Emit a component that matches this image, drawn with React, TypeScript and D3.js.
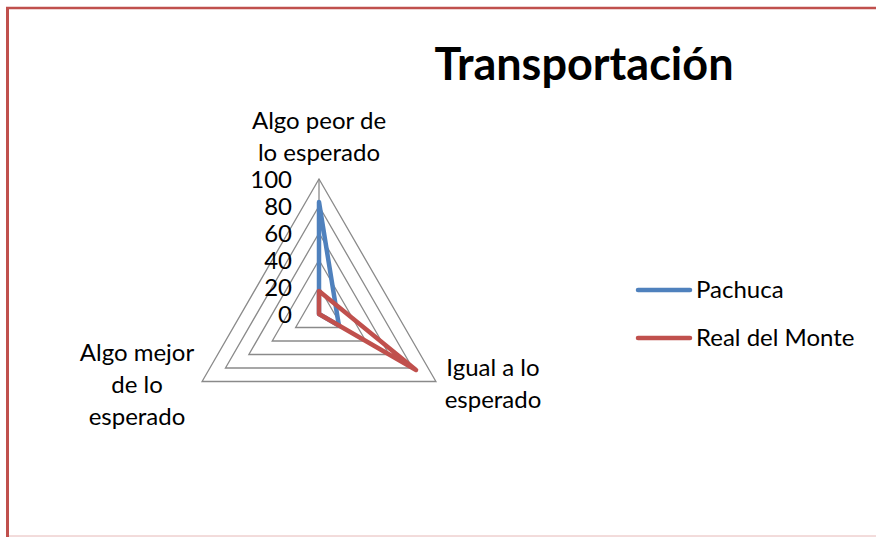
import React, { useEffect, useRef } from "react";
import * as d3 from "d3";

const categories = [
  ["Algo peor de", "lo esperado"],
  ["Igual a lo", "esperado"],
  ["Algo mejor", "de lo", "esperado"],
];
const seriesNames = ["Pachuca", "Real del Monte"];
const pachuca = [83, 17, 0];
const realDelMonte = [17, 83, 0];
const ticks = [0, 20, 40, 60, 80, 100];
const colors = ["#4F81BD", "#C0504D"];

const App = () => {
  const ref = useRef<SVGSVGElement>(null);

  useEffect(() => {
    const width = 876;
    const height = 537;
    const cx = 319;
    const cy = 314;
    const font = "Lato, 'Open Sans', sans-serif";

    const svg = d3.select(ref.current);
    svg.selectAll("*").remove();
    svg.attr("width", width).attr("height", height);

    svg.append("rect").attr("width", width).attr("height", height).attr("fill", "#fff");

    // frame
    svg.append("line").attr("x1", 6).attr("x2", width).attr("y1", 8).attr("y2", 8)
      .attr("stroke", "#C0504D").attr("stroke-width", 2.5);
    svg.append("line").attr("x1", 7.5).attr("x2", 7.5).attr("y1", 7).attr("y2", height)
      .attr("stroke", "#C0504D").attr("stroke-width", 3);
    svg.append("line").attr("x1", 9).attr("x2", width).attr("y1", 536).attr("y2", 536)
      .attr("stroke", "#E6B8B7").attr("stroke-width", 1);

    svg.append("text")
      .attr("x", 584).attr("y", 80)
      .attr("text-anchor", "middle")
      .style("font-family", font).style("font-weight", "bold").style("font-size", "45px")
      .text("Transportación");

    const r = d3.scaleLinear().domain([0, 100]).range([0, 135]);
    const n = categories.length;
    const angle = (i: number) => (i * 2 * Math.PI) / n;

    const g = svg.append("g").attr("transform", `translate(${cx},${cy})`);

    const radial = d3.lineRadial<number>()
      .angle((_, i) => angle(i))
      .radius((d) => r(d))
      .curve(d3.curveLinearClosed);

    // grid triangles
    ticks.filter((t) => t > 0).forEach((t) => {
      g.append("path")
        .attr("d", radial(d3.range(n).map(() => t)))
        .attr("fill", "none").attr("stroke", "#8a8a8a").attr("stroke-width", 1.3);
    });
    // value axis
    g.append("line").attr("x1", 0).attr("y1", 0).attr("x2", 0).attr("y2", -r(100))
      .attr("stroke", "#8a8a8a").attr("stroke-width", 1.3);

    // tick labels
    g.selectAll(".tick")
      .data(ticks)
      .enter()
      .append("text")
      .attr("x", -27)
      .attr("y", (d) => -r(d))
      .attr("dy", "0.36em")
      .attr("text-anchor", "end")
      .style("font-family", font).style("font-size", "24px")
      .text((d) => d);

    // series
    [pachuca, realDelMonte].forEach((vals, k) => {
      g.append("path")
        .attr("d", radial(vals))
        .attr("fill", "none")
        .attr("stroke", colors[k])
        .attr("stroke-width", 4.5)
        .attr("stroke-linejoin", "round");
    });

    // category labels (first-line baselines, relative to centre)
    const labelPos = [
      { x: 0, y: -185 },
      { x: 174, y: 62 },
      { x: -182, y: 47 },
    ];
    categories.forEach((lines, i) => {
      const t = g.append("text")
        .attr("text-anchor", "middle")
        .style("font-family", font).style("font-size", "24px");
      lines.forEach((l, j) => {
        t.append("tspan")
          .attr("x", labelPos[i].x)
          .attr("y", labelPos[i].y + j * 32)
          .text(l);
      });
    });

    // legend
    const legend = svg.append("g").attr("transform", "translate(638,290)");
    seriesNames.forEach((name, k) => {
      const row = legend.append("g").attr("transform", `translate(0,${k * 48})`);
      row.append("line").attr("x1", 0).attr("x2", 52).attr("y1", 0).attr("y2", 0)
        .attr("stroke", colors[k]).attr("stroke-width", 4.5).attr("stroke-linecap", "round");
      row.append("text").attr("x", 58).attr("y", 7.5)
        .style("font-family", font).style("font-size", "24px")
        .text(name);
    });
  }, []);

  return (
    <div style={{ position: "absolute", left: 0, top: 0 }}>
      <svg ref={ref}></svg>
    </div>
  );
};

export default App;
